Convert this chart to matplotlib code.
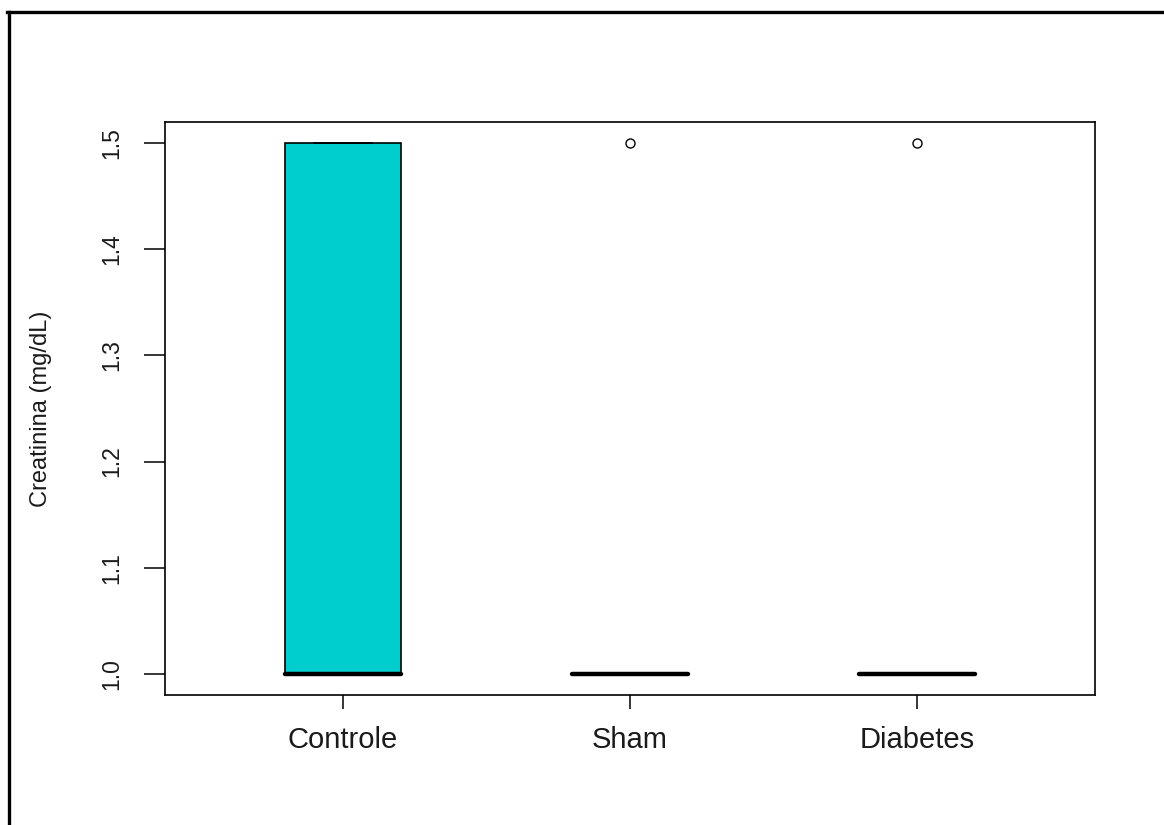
import matplotlib
matplotlib.use("Agg")
import matplotlib.pyplot as plt
from matplotlib.lines import Line2D

plt.rcParams["font.family"] = ["Liberation Sans", "DejaVu Sans"]

# ---- data (creatinine, mg/dL) ----
groups = ["Controle", "Sham", "Diabetes"]
controle = [1.0, 1.0, 1.0, 1.5, 1.5]
sham = [1.0, 1.0, 1.0, 1.0, 1.5]
diabetes = [1.0, 1.0, 1.0, 1.0, 1.5]
yticks = [1.0, 1.1, 1.2, 1.3, 1.4, 1.5]

fig = plt.figure(figsize=(11.64, 8.25), dpi=100)
ax = fig.add_axes([165 / 1164, 1 - 695 / 825, 930 / 1164, 573 / 825])

bp = ax.boxplot([controle, sham, diabetes], positions=[1, 2, 3], widths=0.405,
                patch_artist=True, whis=1.5,
                boxprops=dict(facecolor="#00CDCD", edgecolor="black", linewidth=1.2),
                medianprops=dict(color="black", linewidth=3.2, solid_capstyle="round"),
                whiskerprops=dict(color="black", linewidth=1.2, linestyle="--"),
                capprops=dict(color="black", linewidth=1.2),
                flierprops=dict(marker="o", markerfacecolor="none",
                                markeredgecolor="black", markersize=6.5,
                                markeredgewidth=1.0))

ax.set_xlim(0.38, 3.62)
ax.set_ylim(0.98, 1.52)
ax.set_xticks([1, 2, 3])
ax.set_xticklabels(groups, fontsize=21, color="#1a1a1a")
ax.set_yticks(yticks)
ax.set_yticklabels([f"{v:.1f}" for v in yticks], fontsize=16.5,
                   rotation=90, va="center", color="#1a1a1a")
ax.tick_params(axis="x", length=10, width=1.1, pad=12)
ax.tick_params(axis="y", length=15, width=1.1, pad=15)
for sp in ax.spines.values():
    sp.set_linewidth(1.2)

ax.set_ylabel("Creatinina (mg/dL)", fontsize=17, color="#1a1a1a")
ax.yaxis.set_label_coords(-0.122, 0.5)

# outer frame (only left and top edges visible)
fig.add_artist(Line2D([8.5 / 1164, 8.5 / 1164], [0, 1 - 11.5 / 825],
                      transform=fig.transFigure, color="black", linewidth=2.4))
fig.add_artist(Line2D([7 / 1164, 1], [1 - 11.5 / 825, 1 - 11.5 / 825],
                      transform=fig.transFigure, color="black", linewidth=2.4))

fig.savefig("out.png", dpi=100)
